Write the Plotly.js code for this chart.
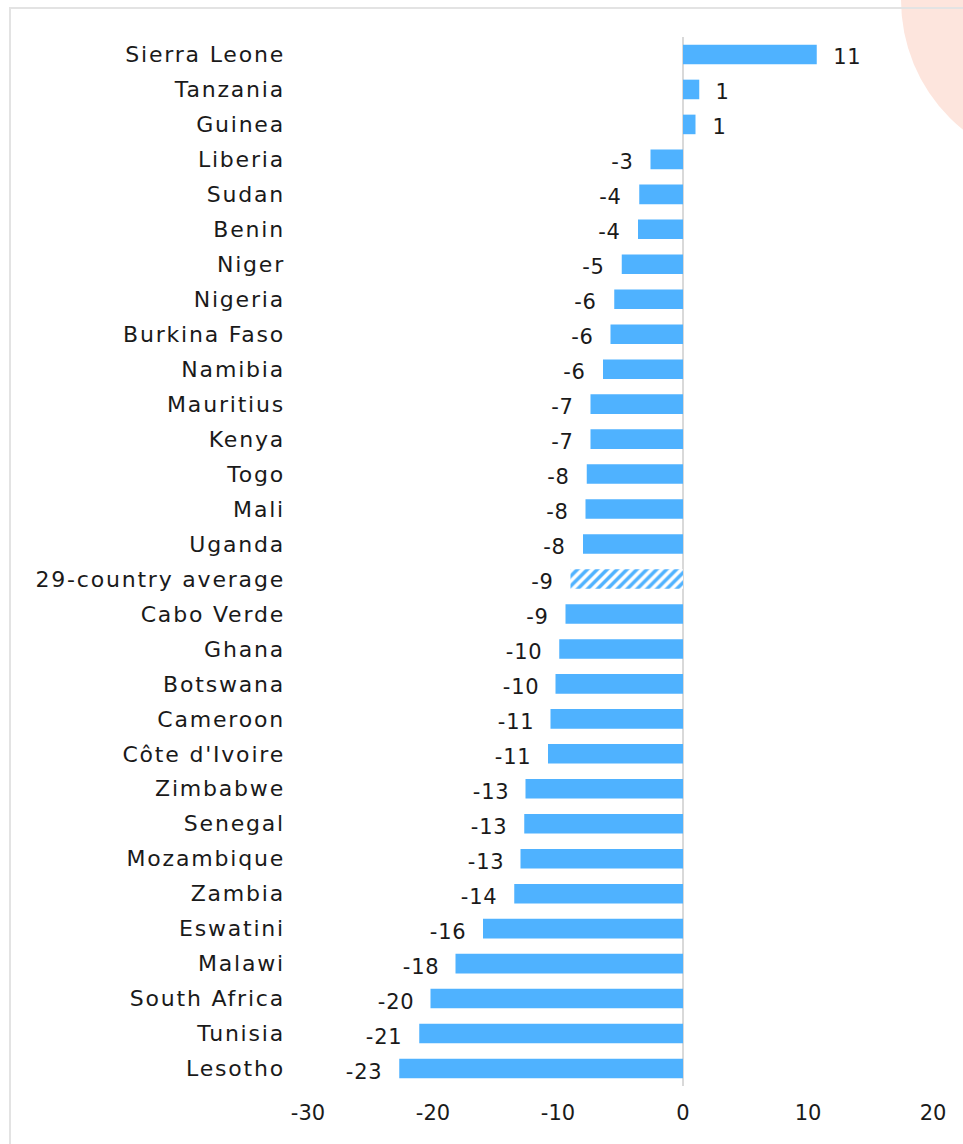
<!DOCTYPE html>
<html><head><meta charset="utf-8">
<script src="https://cdn.plot.ly/plotly-3.0.1.min.js"></script>
<style>
html,body{margin:0;padding:0;background:#fff;overflow:hidden;}
#wrap{position:relative;width:963px;height:1144px;overflow:hidden;}
#circle{position:absolute;left:901px;top:-167px;width:334px;height:334px;border-radius:50%;background:#fde5dd;}
#frame{position:absolute;left:9px;top:7px;width:1000px;height:1200px;border:2px solid #e3e3e3;box-sizing:border-box;}
#chart{position:absolute;left:0;top:0;width:963px;height:1144px;}
#chart .ytick text{letter-spacing:1.8px;}
#chart .annotation-text{letter-spacing:0.8px;}
</style></head>
<body><div id="wrap"><div id="circle"></div><div id="frame"></div><div id="chart"></div></div>
<script>
const countries = ["Sierra Leone","Tanzania","Guinea","Liberia","Sudan","Benin","Niger","Nigeria","Burkina Faso","Namibia","Mauritius","Kenya","Togo","Mali","Uganda","29-country average","Cabo Verde","Ghana","Botswana","Cameroon","Côte d'Ivoire","Zimbabwe","Senegal","Mozambique","Zambia","Eswatini","Malawi","South Africa","Tunisia","Lesotho"];
const values = [10.7,1.3,1.0,-2.6,-3.5,-3.6,-4.9,-5.5,-5.8,-6.4,-7.4,-7.4,-7.7,-7.8,-8.0,-9.0,-9.4,-9.9,-10.2,-10.6,-10.8,-12.6,-12.7,-13.0,-13.5,-16.0,-18.2,-20.2,-21.1,-22.7];
const labels = ["11","1","1","-3","-4","-4","-5","-6","-6","-6","-7","-7","-8","-8","-8","-9","-9","-10","-10","-11","-11","-13","-13","-13","-14","-16","-18","-20","-21","-23"];
const averageName = "29-country average";
const xTicks = [-30,-20,-10,0,10,20];

const FONT = "DejaVu Sans, sans-serif";
const BLUE = "#4fb2ff";

const isAvg = countries.map(c => c === averageName);

const solidTrace = {
  type: "bar", orientation: "h",
  x: values.map((v, i) => isAvg[i] ? null : v), y: countries,
  marker: {color: BLUE, line: {width: 0}},
  hoverinfo: "skip"
};
const avgTrace = {
  type: "bar", orientation: "h",
  x: values.map((v, i) => isAvg[i] ? v : null), y: countries,
  marker: {
    color: "#ffffff",
    pattern: {shape: "/", fillmode: "replace", fgcolor: BLUE, bgcolor: "#ffffff", size: 7, solidity: 0.5},
    line: {width: 0}
  },
  hoverinfo: "skip"
};

const annotations = values.map((v, i) => ({
  x: v, y: countries[i], xref: "x", yref: "y",
  text: labels[i], showarrow: false,
  xanchor: v >= 0 ? "left" : "right",
  xshift: v >= 0 ? 15 : -16, yshift: -3,
  font: {family: FONT, size: 21, color: "#1a1a1a"}
}));

const layout = {
  width: 963, height: 1144,
  margin: {l: 308, r: 30, t: 37, b: 58},
  paper_bgcolor: "rgba(0,0,0,0)", plot_bgcolor: "rgba(0,0,0,0)",
  showlegend: false,
  barmode: "overlay",
  bargap: 0.44,
  font: {family: FONT, size: 21, color: "#1a1a1a"},
  xaxis: {
    range: [-30, 20], tickvals: xTicks, ticktext: xTicks.map(String),
    showgrid: false, zeroline: true, zerolinecolor: "#d9d9d9", zerolinewidth: 2,
    showline: false, ticks: "", ticklabelstandoff: 12,
    tickfont: {family: FONT, size: 21, color: "#1a1a1a"}, fixedrange: true
  },
  yaxis: {
    autorange: "reversed", type: "category", categoryorder: "array", categoryarray: countries,
    showgrid: false, zeroline: false, showline: false, ticks: "",
    ticklabelstandoff: 22,
    tickfont: {family: FONT, size: 22, color: "#1a1a1a"}, fixedrange: true
  },
  annotations: annotations
};

Plotly.newPlot("chart", [solidTrace, avgTrace], layout, {displayModeBar: false, staticPlot: true});
</script></body></html>
